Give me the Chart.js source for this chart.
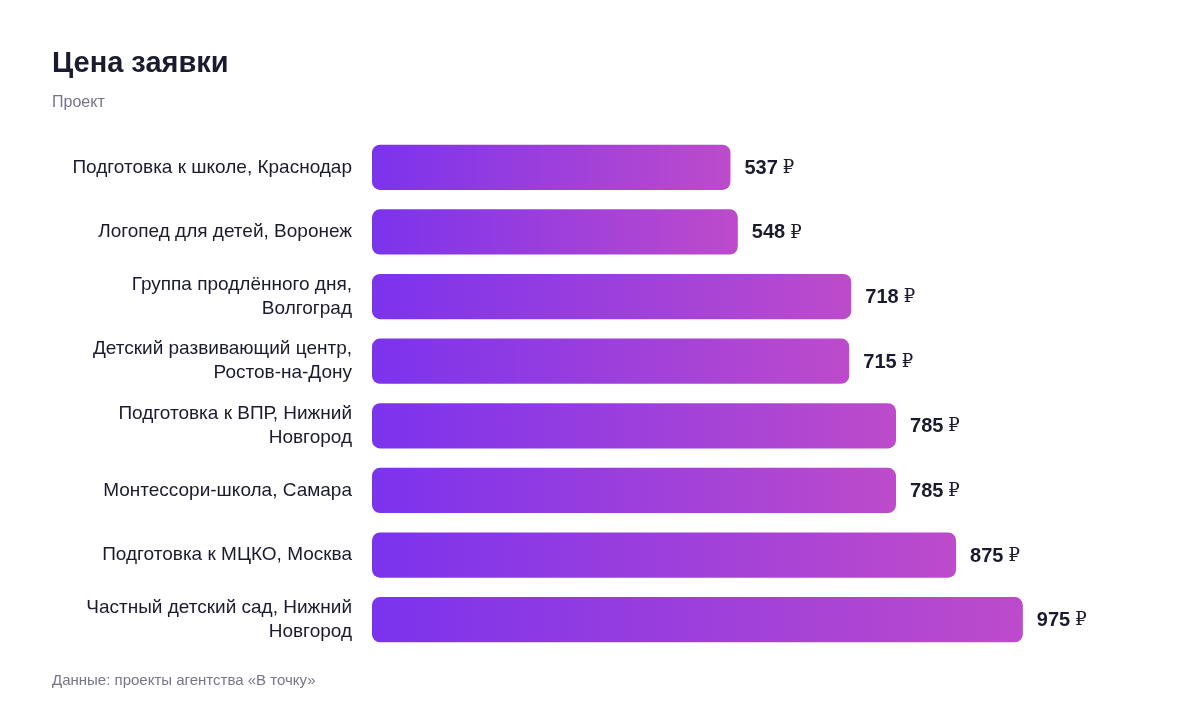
<!DOCTYPE html>
<html><head><meta charset="utf-8">
<script src="https://cdn.jsdelivr.net/npm/chart.js@4.4.1/dist/chart.umd.min.js"></script>
<style>
html,body{margin:0;padding:0;background:#fff;width:1200px;height:712px;overflow:hidden;font-family:Arial,"Liberation Sans",Helvetica,sans-serif;}
#title{position:absolute;left:52px;top:46px;font-size:29px;font-weight:bold;color:#1b1b2f;}
#sub{position:absolute;left:52px;top:93px;font-size:16px;color:#75758a;}
#foot{position:absolute;left:52px;top:671px;font-size:15px;color:#75758a;}
#wrap{position:absolute;left:0;top:0;width:1200px;height:712px;}
</style></head>
<body>
<div id="wrap"><canvas id="c"></canvas></div>
<div id="title">Цена заявки</div>
<div id="sub">Проект</div>
<div id="foot">Данные: проекты агентства «В точку»</div>
<script>
const categories = [
  "Подготовка к школе, Краснодар",
  "Логопед для детей, Воронеж",
  ["Группа продлённого дня,", "Волгоград"],
  ["Детский развивающий центр,", "Ростов-на-Дону"],
  ["Подготовка к ВПР, Нижний", "Новгород"],
  "Монтессори-школа, Самара",
  "Подготовка к МЦКО, Москва",
  ["Частный детский сад, Нижний", "Новгород"]
];
const prices = [537, 548, 718, 715, 785, 785, 875, 975];
const currency = "₽";

const FONT = 'Arial, "Liberation Sans", Helvetica, sans-serif';

const valueLabels = {
  id: 'valueLabels',
  afterDatasetsDraw(chart) {
    const ctx = chart.ctx;
    const meta = chart.getDatasetMeta(0);
    ctx.save();
    ctx.textBaseline = 'middle';
    ctx.fillStyle = '#1b1b2f';
    meta.data.forEach((bar, i) => {
      const num = String(prices[i]);
      const x = bar.x + 14;
      ctx.font = 'bold 20px ' + FONT;
      ctx.fillText(num, x, bar.y + 1);
      const w = ctx.measureText(num).width;
      ctx.font = '18px "DejaVu Serif", "Liberation Serif", serif';
      ctx.fillText(currency, x + w + 5, bar.y + 1);
    });
    ctx.restore();
  }
};

new Chart(document.getElementById('c'), {
  type: 'bar',
  data: {
    labels: categories,
    datasets: [{
      data: prices,
      backgroundColor(context) {
        const chart = context.chart;
        if (!chart.chartArea || context.dataIndex === undefined) return '#7c3aed';
        const xs = chart.scales.x;
        const x0 = xs.getPixelForValue(0);
        const x1 = xs.getPixelForValue(prices[context.dataIndex]);
        const g = chart.ctx.createLinearGradient(x0, 0, x1, 0);
        g.addColorStop(0, '#7b33ed');
        g.addColorStop(1, '#bd4bcb');
        return g;
      },
      borderRadius: 8,
      borderSkipped: false,
      categoryPercentage: 0.7,
      barPercentage: 1.0
    }]
  },
  options: {
    indexAxis: 'y',
    responsive: true,
    maintainAspectRatio: false,
    animation: false,
    layout: { padding: { top: 135, bottom: 60, left: 0, right: 47 } },
    plugins: { legend: { display: false }, tooltip: { enabled: false } },
    scales: {
      x: { display: false, min: 0, max: 1170, grid: { display: false } },
      y: {
        grid: { display: false, drawTicks: false },
        border: { display: false },
        ticks: {
          color: '#1b1b2f',
          padding: 20,
          font: { size: 19, family: FONT, lineHeight: 1.26 }
        },
        afterFit(scale) { scale.width = 372; }
      }
    }
  },
  plugins: [valueLabels]
});
</script>
</body></html>
